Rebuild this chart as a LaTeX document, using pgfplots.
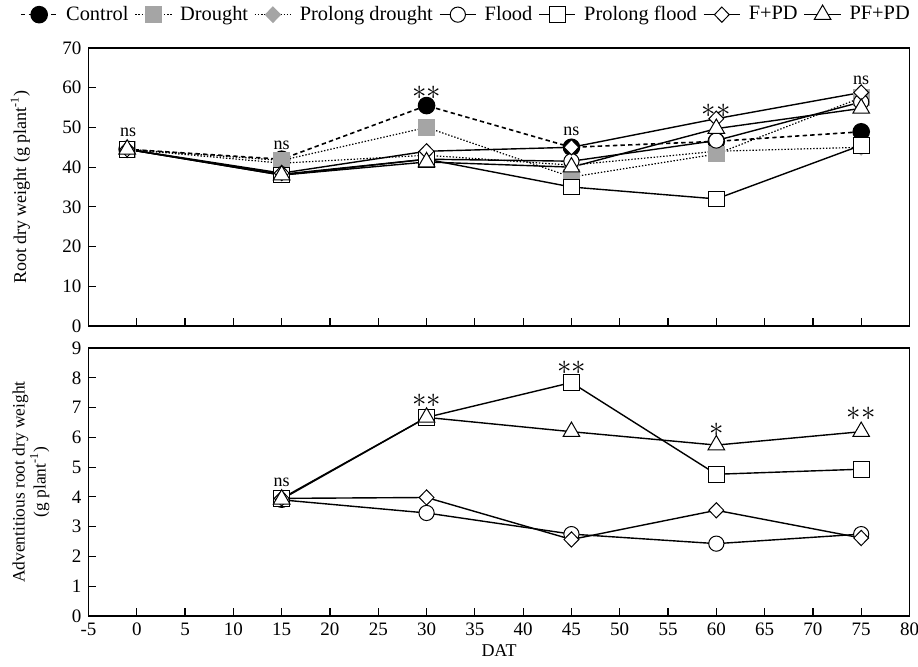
\documentclass[border=0pt]{standalone}
\usepackage{fontspec}
\setmainfont{Liberation Serif}
\usepackage{pgfplots}
\pgfplotsset{compat=1.18}
\definecolor{mygray}{RGB}{165,165,165}

\pgfplotstableread{
x ctl dro pdro fl pfl fpd pfpd
-1 44.5 44.5 44.5 44.5 44.5 44.5 44.5
15 42.0 41.7 41.0 38.2 38.0 38.5 38.0
30 55.5 50.0 43.0 42.0 42.0 44.0 41.3
45 45.0 37.5 40.5 41.5 35.0 45.0 40.0
60 46.5 43.3 44.0 46.7 32.0 52.2 49.7
75 48.9 57.5 45.0 56.4 45.5 58.8 54.8
}\toptable

\pgfplotstableread{
x fl pfl fpd pfpd
15 3.90 3.95 3.95 3.92
30 3.46 6.67 3.98 6.67
45 2.75 7.84 2.57 6.19
60 2.43 4.76 3.55 5.74
75 2.75 4.93 2.62 6.19
}\bottable

\pgfplotsset{
  mystyle/.style={
    scale only axis, width=410.5pt,
    xmin=-5, xmax=80, xtick={-5,0,...,80},
    axis line style={line width=0.9pt},
    tick align=inside, xtick pos=bottom, ytick pos=left,
    major tick length=4pt,
    tick style={line width=0.6pt, black},
    /pgf/number format/assume math mode=true,
    ticklabel style={font=\fontsize{9.5}{11}\selectfont},
    label style={font=\fontsize{9}{10.5}\selectfont},
    clip=false,
  },
  ctl/.style={black, line width=0.8pt, dash pattern=on 2.2pt off 1.6pt, mark=*, mark size=4pt, mark options={solid, fill=black}},
  dro/.style={black, line width=0.6pt, dash pattern=on 0.7pt off 0.9pt, mark=square*, mark size=3.9pt, mark options={solid, fill=mygray, draw=mygray}},
  pdro/.style={black, line width=0.6pt, dash pattern=on 0.7pt off 0.9pt, mark=diamond*, mark size=3.8pt, mark options={solid, fill=mygray, draw=mygray, xscale=1.3}},
  fl/.style={black, line width=0.7pt, mark=*, mark size=3.8pt, mark options={fill=white, line width=0.5pt}},
  pfl/.style={black, line width=0.7pt, mark=square*, mark size=3.9pt, mark options={fill=white, line width=0.5pt}},
  fpd/.style={black, line width=0.7pt, mark=diamond*, mark size=3.8pt, mark options={fill=white, line width=0.5pt, xscale=1.3}},
  pfpd/.style={black, line width=0.7pt, mark=triangle*, mark size=4.8pt, mark options={fill=white, line width=0.5pt}},
}

\newcommand{\ns}{\fontsize{9}{10}\selectfont ns}
\newcommand{\oast}{\fontsize{13.5}{13.5}\selectfont$\ast$}
\newcommand{\aast}{\fontsize{13.5}{13.5}\selectfont$\ast\ast$}

\begin{document}
\begin{tikzpicture}
\path[use as bounding box] (0,0) rectangle (459pt,333pt);

\begin{axis}[mystyle, name=top, at={(44.25pt,170pt)}, anchor=south west,
  height=139pt, ymin=0, ymax=70, ytick={0,10,...,70}, xticklabels={},
  ylabel={Root dry weight (g plant\textsuperscript{-1})},
  ylabel style={at={(axis description cs:-0.083,0.5)}, anchor=center},
  legend columns=-1,
  legend style={draw=none, fill=none, at={(axis description cs:0.461,1.12)}, anchor=center,
    font=\fontsize{10.2}{11.5}\selectfont, inner sep=0pt,
    /tikz/every even column/.append style={column sep=1pt},
    /tikz/every odd column/.append style={column sep=2pt}},
  legend image code/.code={\draw[mark repeat=2, mark phase=2] plot coordinates {(0cm,0cm) (0.32cm,0cm) (0.64cm,0cm)};},
]
\addplot[ctl] table[x=x, y=ctl] {\toptable};
\addlegendentry{Control}
\addplot[dro] table[x=x, y=dro] {\toptable};
\addlegendentry{Drought}
\addplot[pdro] table[x=x, y=pdro] {\toptable};
\addlegendentry{Prolong drought}
\addplot[fl] table[x=x, y=fl] {\toptable};
\addlegendentry{Flood}
\addplot[pfl] table[x=x, y=pfl] {\toptable};
\addlegendentry{Prolong flood}
\addplot[fpd] table[x=x, y=fpd] {\toptable};
\addlegendentry{F+PD}
\addplot[pfpd] table[x=x, y=pfpd] {\toptable};
\addlegendentry{PF+PD}

\node at (axis cs:-0.9,48.7) {\ns};
\node at (axis cs:15,45.6) {\ns};
\node at (axis cs:30,58.8) {\aast};
\node at (axis cs:45,49.1) {\ns};
\node at (axis cs:60,54.3) {\aast};
\node at (axis cs:75,61.8) {\ns};
\end{axis}

\begin{axis}[mystyle, name=bot, at={(44.25pt,25pt)}, anchor=south west,
  height=134pt, ymin=0, ymax=9, ytick={0,1,...,9},
  xlabel={DAT},
  xlabel style={at={(axis description cs:0.5,-0.128)}, anchor=center},
  ylabel={Adventitious root dry weight\\(g plant\textsuperscript{-1})},
  ylabel style={at={(axis description cs:-0.070,0.5)}, anchor=center, align=center, font=\fontsize{8.7}{10.5}\selectfont},
]
\addplot[fl] table[x=x, y=fl] {\bottable};
\addplot[pfl] table[x=x, y=pfl] {\bottable};
\addplot[fpd] table[x=x, y=fpd] {\bottable};
\addplot[pfpd] table[x=x, y=pfpd] {\bottable};

\node at (axis cs:15,4.5) {\ns};
\node at (axis cs:30,7.23) {\aast};
\node at (axis cs:45,8.35) {\aast};
\node at (axis cs:60,6.24) {\oast};
\node at (axis cs:75,6.78) {\aast};
\end{axis}
\end{tikzpicture}
\end{document}
